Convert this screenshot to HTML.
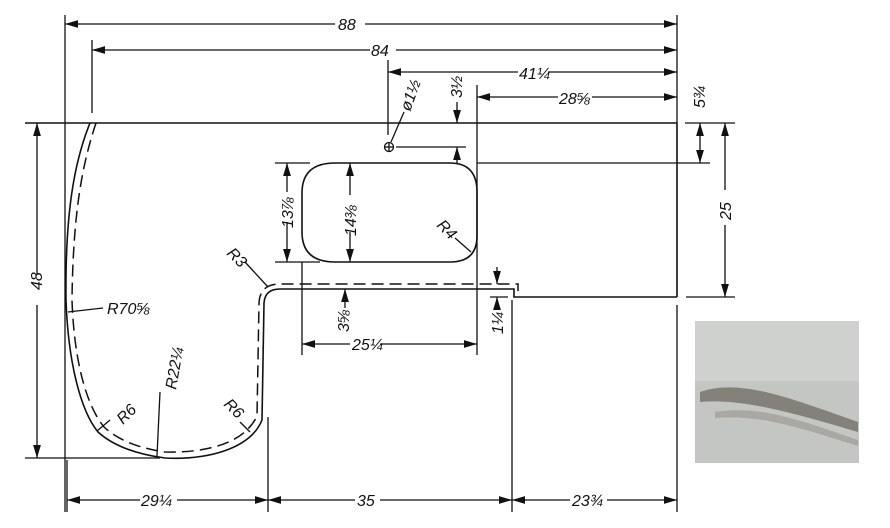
<!DOCTYPE html>
<html><head><meta charset="utf-8"><style>
html,body{margin:0;padding:0;background:#fff;}
svg{display:block;}
text{font-family:"Liberation Sans",sans-serif;font-style:italic;font-size:16px;fill:#111;}
</style></head><body>
<svg width="890" height="528" viewBox="0 0 890 528" xmlns="http://www.w3.org/2000/svg">
<defs>
<marker id="a" viewBox="0 0 10 6" refX="10" refY="3" markerWidth="10" markerHeight="6" orient="auto-start-reverse"><path d="M0,0 L10,3 L0,6 z" fill="#111"/></marker>
<linearGradient id="m" x1="0" y1="0" x2="0" y2="1">
<stop offset="0" stop-color="#c9cbc8"/><stop offset="0.4" stop-color="#bfc1be"/><stop offset="0.55" stop-color="#8d8983"/><stop offset="0.65" stop-color="#b4b3ae"/><stop offset="0.8" stop-color="#a9a8a3"/><stop offset="1" stop-color="#c3c4c0"/></linearGradient>
</defs>
<g stroke="#111" stroke-width="1.3" fill="none">
<line x1="65" y1="15" x2="65" y2="512"/>
<line x1="677" y1="15" x2="677" y2="123"/>
<line x1="677" y1="305" x2="677" y2="512"/>
<line x1="92" y1="40" x2="92" y2="113"/>
<line x1="388" y1="60" x2="388" y2="135"/>
<line x1="477" y1="85" x2="477" y2="355"/>
<line x1="302" y1="262" x2="302" y2="355"/>
<line x1="268" y1="417" x2="268" y2="512"/>
<line x1="512" y1="300" x2="512" y2="512"/>
<line x1="25" y1="123" x2="677" y2="123" stroke-width="1.6"/>
<line x1="685" y1="123" x2="735" y2="123"/>
<line x1="25" y1="458" x2="160" y2="458"/>
<line x1="477" y1="163" x2="710" y2="163"/>
<line x1="686" y1="297" x2="735" y2="297"/>
<line x1="275" y1="163" x2="310" y2="163"/>
<line x1="275" y1="262" x2="320" y2="262"/>
<line x1="396" y1="147" x2="466" y2="147"/>
<line x1="677" y1="123" x2="677" y2="297" stroke-width="1.6"/>
<line x1="65" y1="24" x2="335" y2="24" marker-start="url(#a)"/><line x1="365" y1="24" x2="677" y2="24" marker-end="url(#a)"/>
<line x1="92" y1="50" x2="370" y2="50" marker-start="url(#a)"/><line x1="396" y1="50" x2="677" y2="50" marker-end="url(#a)"/>
<line x1="388" y1="72" x2="518" y2="72" marker-start="url(#a)"/><line x1="548" y1="72" x2="677" y2="72" marker-end="url(#a)"/>
<line x1="477" y1="97" x2="558" y2="97" marker-start="url(#a)"/><line x1="592" y1="97" x2="677" y2="97" marker-end="url(#a)"/>
<line x1="457" y1="102" x2="457" y2="123" marker-end="url(#a)"/>
<line x1="457" y1="147" x2="457" y2="163" marker-start="url(#a)"/>
<line x1="700" y1="123" x2="700" y2="163" marker-start="url(#a)" marker-end="url(#a)"/>
<line x1="725" y1="123" x2="725" y2="190" marker-start="url(#a)"/><line x1="725" y1="225" x2="725" y2="297" marker-end="url(#a)"/>
<line x1="37" y1="123" x2="37" y2="275" marker-start="url(#a)"/><line x1="37" y1="305" x2="37" y2="458" marker-end="url(#a)"/>
<line x1="287" y1="163" x2="287" y2="192" marker-start="url(#a)"/><line x1="287" y1="222" x2="287" y2="262" marker-end="url(#a)"/>
<line x1="350" y1="163" x2="350" y2="195" marker-start="url(#a)"/><line x1="350" y1="232" x2="350" y2="262" marker-end="url(#a)"/>
<line x1="302" y1="344" x2="350" y2="344" marker-start="url(#a)"/><line x1="380" y1="344" x2="477" y2="344" marker-end="url(#a)"/>
<line x1="67" y1="500" x2="140" y2="500" marker-start="url(#a)"/><line x1="177" y1="500" x2="268" y2="500" marker-end="url(#a)"/>
<line x1="268" y1="500" x2="355" y2="500" marker-start="url(#a)"/><line x1="380" y1="500" x2="512" y2="500" marker-end="url(#a)"/>
<line x1="512" y1="500" x2="570" y2="500" marker-start="url(#a)"/><line x1="607" y1="500" x2="677" y2="500" marker-end="url(#a)"/>
<line x1="67" y1="460" x2="67" y2="512"/>
<line x1="345" y1="289" x2="345" y2="308" marker-start="url(#a)"/>
<line x1="497" y1="267" x2="497" y2="284" marker-end="url(#a)"/>
<line x1="497" y1="310" x2="497" y2="297" marker-end="url(#a)"/>
<line x1="490" y1="297" x2="508" y2="297"/>
<path d="M335,163 L450,163 Q477,163 477,192 L477,236 Q477,262 450,262 L335,262 Q302,262 302,232 L302,193 Q302,163 335,163 Z" stroke-width="1.6"/>
<circle cx="389" cy="147" r="4.5"/><line x1="384" y1="147" x2="394" y2="147"/><line x1="389" y1="142" x2="389" y2="152"/>
<line x1="391" y1="142" x2="404" y2="112"/>
<path d="M90,123 C75,160 65,210 66,300 C68,360 80,410 98,432 Q120,452 165,458 C205,460 250,450 262,420 L264,303 Q265,289 280,289 L514,289 L514,297 L677,297" stroke-width="1.6"/>
<path d="M96,123 C83,162 73,210 72,300 C74,360 86,405 104,427 Q124,446 165,452 C205,453 244,444 257,416 L259,303 Q260,284 280,284 L518,284 L518,291" stroke-dasharray="12,6" stroke-width="1.5"/>
<line x1="245" y1="262" x2="268" y2="287"/>
<line x1="68" y1="312" x2="103" y2="308"/>
<line x1="157" y1="456" x2="160" y2="392"/>
<line x1="97" y1="431" x2="110" y2="420"/>
<line x1="240" y1="422" x2="250" y2="432"/>
<line x1="455" y1="238" x2="471" y2="252"/>
</g>
<rect x="695" y="321" width="164" height="142" fill="#c4c6c3"/>
<rect x="695" y="321" width="164" height="60" fill="#cfd1ce"/>
<path d="M700,392 C740,378 790,398 858,422 L858,432 C790,412 740,398 700,402 Z" fill="#6f6a63" opacity="0.75"/>
<path d="M715,412 C760,405 800,420 858,440 L858,446 C800,428 760,414 715,418 Z" fill="#8d8983" opacity="0.5"/>
<g>
<text x="338" y="30">88</text>
<text x="371" y="56">84</text>
<text x="519" y="79">41¼</text>
<text x="559" y="104">28⅝</text>
<text x="141" y="506">29¼</text>
<text x="357" y="506">35</text>
<text x="572" y="506">23¾</text>
<text x="352" y="350">25¼</text>
<text x="107" y="314">R70⅝</text>
<text transform="translate(42,290) rotate(-90)">48</text>
<text transform="translate(731,220) rotate(-90)">25</text>
<text transform="translate(293,228) rotate(-90)">13⅞</text>
<text transform="translate(356,236) rotate(-90)">14⅜</text>
<text transform="translate(462,98) rotate(-90)">3½</text>
<text transform="translate(705,108) rotate(-90)">5¾</text>
<text transform="translate(349,332) rotate(-90)">3⅝</text>
<text transform="translate(503,334) rotate(-90)">1¼</text>
<text transform="translate(410,112) rotate(-70)">ø1½</text>
<text transform="translate(176,390) rotate(-80)">R22¼</text>
<text transform="translate(123,425) rotate(-45)">R6</text>
<text transform="translate(223,405) rotate(45)">R6</text>
<text transform="translate(226,254) rotate(45)">R3</text>
<text transform="translate(436,226) rotate(45)">R4</text>
</g>
</svg>
</body></html>
